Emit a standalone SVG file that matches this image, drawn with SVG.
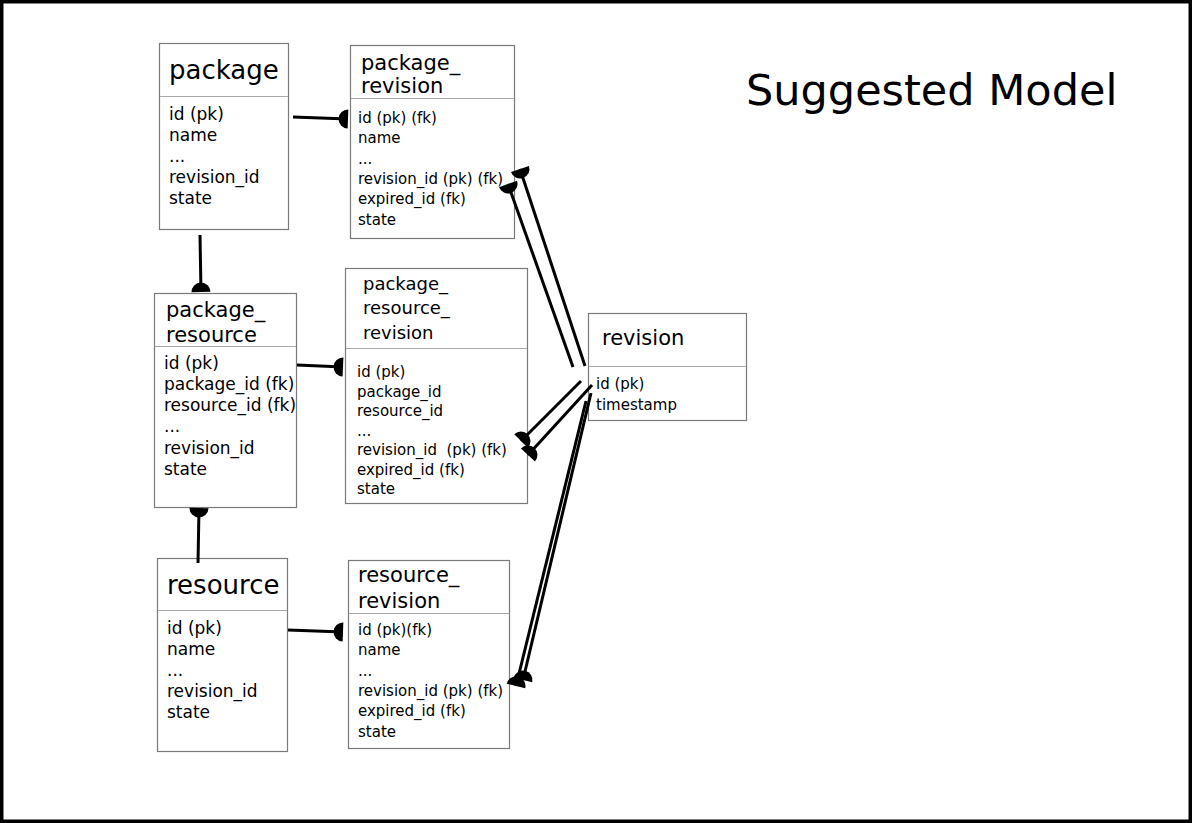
<svg xmlns="http://www.w3.org/2000/svg" width="1192" height="823" viewBox="0 0 1192 823">
<style>
.box{fill:#fff;stroke:#7a7a7a;stroke-width:1.2}
.div{stroke:#aaa;stroke-width:1}
text{font-family:"DejaVu Sans","Liberation Sans",sans-serif;fill:#000}
.t26{font-size:26px}
.t21{font-size:21px}
.t18{font-size:18px}
.f17{font-size:17px}
.f15{font-size:15px}
.c{fill:none;stroke:#000;stroke-width:3;marker-end:url(#half)}
</style>
<defs>
<marker id="half" viewBox="-11 -11 22 22" refX="0" refY="0" markerWidth="22" markerHeight="22" markerUnits="userSpaceOnUse" orient="auto">
<path d="M0,-9.5 A9.5,9.5 0 0,0 0,9.5 Z" fill="#000"/>
</marker>
</defs>
<rect x="0" y="0" width="1192" height="823" fill="#fff"/>
<rect x="1.75" y="1.75" width="1188.5" height="819.5" fill="none" stroke="#000" stroke-width="3.5"/>
<text x="746" y="105" style="font-size:43px">Suggested Model</text>

<g id="package">
<rect class="box" x="159.5" y="43.5" width="129" height="186"/>
<line class="div" x1="160" y1="96.5" x2="288" y2="96.5"/>
<text class="t26" x="169" y="79">package</text>
<text class="f17" x="169"><tspan x="169" y="120">id (pk)</tspan><tspan x="169" y="141">name</tspan><tspan x="169" y="162">...</tspan><tspan x="169" y="183">revision_id</tspan><tspan x="169" y="204">state</tspan></text>
</g>

<g id="package_revision">
<rect class="box" x="350.5" y="45.5" width="164" height="193"/>
<line class="div" x1="351" y1="98.5" x2="514" y2="98.5"/>
<text class="t21" x="361"><tspan x="361" y="70">package_</tspan><tspan x="361" y="93">revision</tspan></text>
<text class="f15" x="358"><tspan x="358" y="123">id (pk) (fk)</tspan><tspan x="358" y="143">name</tspan><tspan x="358" y="163.5">...</tspan><tspan x="358" y="184">revision_id (pk) (fk)</tspan><tspan x="358" y="204">expired_id (fk)</tspan><tspan x="358" y="224.5">state</tspan></text>
</g>

<g id="package_resource">
<rect class="box" x="154.5" y="293.5" width="142" height="214"/>
<line class="div" x1="155" y1="346.5" x2="296" y2="346.5"/>
<text class="t21" x="166"><tspan x="166" y="317">package_</tspan><tspan x="166" y="342">resource</tspan></text>
<text class="f17" x="164"><tspan x="164" y="369">id (pk)</tspan><tspan x="164" y="390">package_id (fk)</tspan><tspan x="164" y="411">resource_id (fk)</tspan><tspan x="164" y="432">...</tspan><tspan x="164" y="454">revision_id</tspan><tspan x="164" y="475">state</tspan></text>
</g>

<g id="package_resource_revision">
<rect class="box" x="345.5" y="268.5" width="182" height="235"/>
<line class="div" x1="346" y1="348.5" x2="527" y2="348.5"/>
<text class="t18" x="363"><tspan x="363" y="289.5">package_</tspan><tspan x="363" y="314">resource_</tspan><tspan x="363" y="339">revision</tspan></text>
<text class="f15" x="357" style="white-space:pre"><tspan x="357" y="377">id (pk)</tspan><tspan x="357" y="396.5">package_id</tspan><tspan x="357" y="416">resource_id</tspan><tspan x="357" y="435.5">...</tspan><tspan x="357" y="455">revision_id  (pk) (fk)</tspan><tspan x="357" y="474.5">expired_id (fk)</tspan><tspan x="357" y="494">state</tspan></text>
</g>

<g id="resource">
<rect class="box" x="157.5" y="558.5" width="130" height="193"/>
<line class="div" x1="158" y1="610.5" x2="287" y2="610.5"/>
<text class="t26" x="167" y="594">resource</text>
<text class="f17" x="167"><tspan x="167" y="634">id (pk)</tspan><tspan x="167" y="655">name</tspan><tspan x="167" y="676">...</tspan><tspan x="167" y="697">revision_id</tspan><tspan x="167" y="718">state</tspan></text>
</g>

<g id="resource_revision">
<rect class="box" x="348.5" y="560.5" width="161" height="188"/>
<line class="div" x1="349" y1="613.5" x2="509" y2="613.5"/>
<text class="t21" x="358"><tspan x="358" y="582">resource_</tspan><tspan x="358" y="608">revision</tspan></text>
<text class="f15" x="358"><tspan x="358" y="635">id (pk)(fk)</tspan><tspan x="358" y="655">name</tspan><tspan x="358" y="675.5">...</tspan><tspan x="358" y="696">revision_id (pk) (fk)</tspan><tspan x="358" y="716">expired_id (fk)</tspan><tspan x="358" y="736.5">state</tspan></text>
</g>

<g id="revision">
<rect class="box" x="588.5" y="313.5" width="158" height="107"/>
<line class="div" x1="589" y1="366.5" x2="746" y2="366.5"/>
<text class="t21" x="602" y="345">revision</text>
<text class="f15" x="596"><tspan x="596" y="389">id (pk)</tspan><tspan x="596" y="410">timestamp</tspan></text>
</g>

<g id="connectors">
<line class="c" x1="293" y1="117" x2="348" y2="119"/>
<line class="c" x1="200" y1="235" x2="201" y2="292"/>
<line class="c" x1="297" y1="365" x2="343" y2="367"/>
<line class="c" x1="198" y1="563" x2="199" y2="508"/>
<line class="c" x1="288" y1="630" x2="343" y2="632"/>
<line class="c" x1="573" y1="367" x2="508" y2="184"/>
<line class="c" x1="585" y1="366" x2="520" y2="169"/>
<line class="c" x1="581" y1="381" x2="521" y2="441"/>
<line class="c" x1="592" y1="385" x2="528" y2="455"/>
<line class="c" x1="586" y1="401" x2="516" y2="686"/>
<line class="c" x1="591" y1="393" x2="523" y2="680"/>
</g>
</svg>
